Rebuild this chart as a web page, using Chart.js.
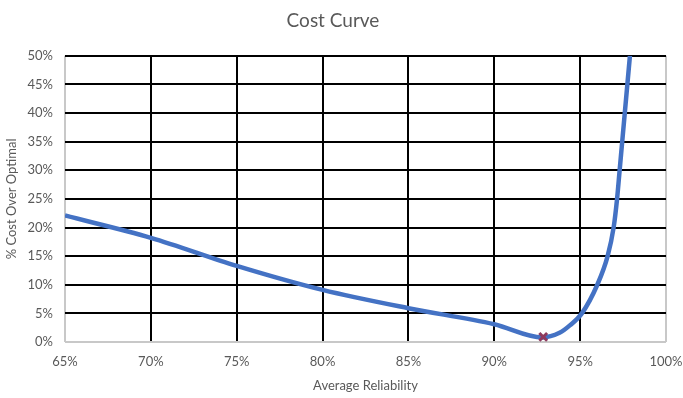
<!DOCTYPE html>
<html>
<head>
<meta charset="utf-8">
<script src="https://cdn.jsdelivr.net/npm/chart.js@4"></script>
<style>
  html, body { margin: 0; padding: 0; background: #fff; }
  #wrap { width: 683px; height: 398px; }
</style>
</head>
<body>
<div id="wrap"><canvas id="costChart" width="683" height="398"></canvas></div>
<script>
// Average reliability (%) and cost over optimal (%)
const reliability = [65, 70, 75, 80, 85, 90, 92.8, 93.8, 94.4, 95.1, 96.0, 96.6, 96.95, 97.15, 97.3, 97.6, 97.9];
const costOver = [22.1, 18.2, 13.3, 9.1, 5.9, 3.1, 0.8, 1.6, 2.9, 5, 10, 15, 20, 25, 30, 40, 50];

// Optimal point
const optimalX = [92.85];
const optimalY = [0.9];

const textColor = "#595959";
const fontFamily = "Lato, 'Open Sans', sans-serif";

document.addEventListener("DOMContentLoaded", function () {
    const ctx = document.getElementById("costChart").getContext("2d");

    const curve = reliability.map(function (x, i) { return { x: x, y: costOver[i] }; });
    const optimal = optimalX.map(function (x, i) { return { x: x, y: optimalY[i] }; });

    new Chart(ctx, {
        type: "scatter",
        data: {
            datasets: [
                {
                    label: "Optimal",
                    data: optimal,
                    pointStyle: "crossRot",
                    pointRadius: 5.5,
                    pointBorderWidth: 3,
                    borderColor: "#8e3a5e",
                    backgroundColor: "#8e3a5e",
                    showLine: false
                },
                {
                    label: "Cost",
                    data: curve,
                    showLine: true,
                    borderColor: "#4472c4",
                    borderWidth: 4.5,
                    pointRadius: 0,
                    cubicInterpolationMode: "monotone"
                }
            ]
        },
        options: {
            responsive: false,
            animation: false,
            layout: { padding: { left: 0, right: 17, top: 0, bottom: 0 } },
            plugins: {
                legend: { display: false },
                tooltip: { enabled: false },
                title: {
                    display: true,
                    text: "Cost Curve",
                    color: textColor,
                    font: { family: fontFamily, size: 19, weight: "normal" },
                    padding: { top: 9, bottom: 24 }
                }
            },
            scales: {
                x: {
                    type: "linear",
                    min: 65,
                    max: 100,
                    afterFit: function (scale) {
                        scale.height = 56;
                        scale.paddingLeft = 0;
                        scale.paddingRight = 0;
                    },
                    ticks: {
                        stepSize: 5,
                        color: textColor,
                        font: { family: fontFamily, size: 13 },
                        padding: 12,
                        maxRotation: 0,
                        callback: function (v) { return v + "%"; }
                    },
                    grid: {
                        drawTicks: false,
                        lineWidth: 2,
                        color: function (c) {
                            return (c.tick && (c.tick.value === 65 || c.tick.value === 100)) ? "#c8c8c8" : "#000000";
                        }
                    },
                    border: { display: false },
                    title: {
                        display: true,
                        text: "Average Reliability",
                        color: textColor,
                        font: { family: fontFamily, size: 13 },
                        padding: { top: 0 }
                    }
                },
                y: {
                    min: 0,
                    max: 50,
                    afterFit: function (scale) { scale.width = 65; },
                    ticks: {
                        stepSize: 5,
                        color: textColor,
                        font: { family: fontFamily, size: 13 },
                        padding: 12,
                        callback: function (v) { return v + "%"; }
                    },
                    grid: {
                        drawTicks: false,
                        lineWidth: 2,
                        color: function (c) {
                            return (c.tick && c.tick.value === 0) ? "#c8c8c8" : "#000000";
                        }
                    },
                    border: { display: false },
                    title: {
                        display: true,
                        text: "% Cost Over Optimal",
                        color: textColor,
                        font: { family: fontFamily, size: 13 },
                        padding: { bottom: 0 }
                    }
                }
            }
        }
    });
});
</script>
</body>
</html>
